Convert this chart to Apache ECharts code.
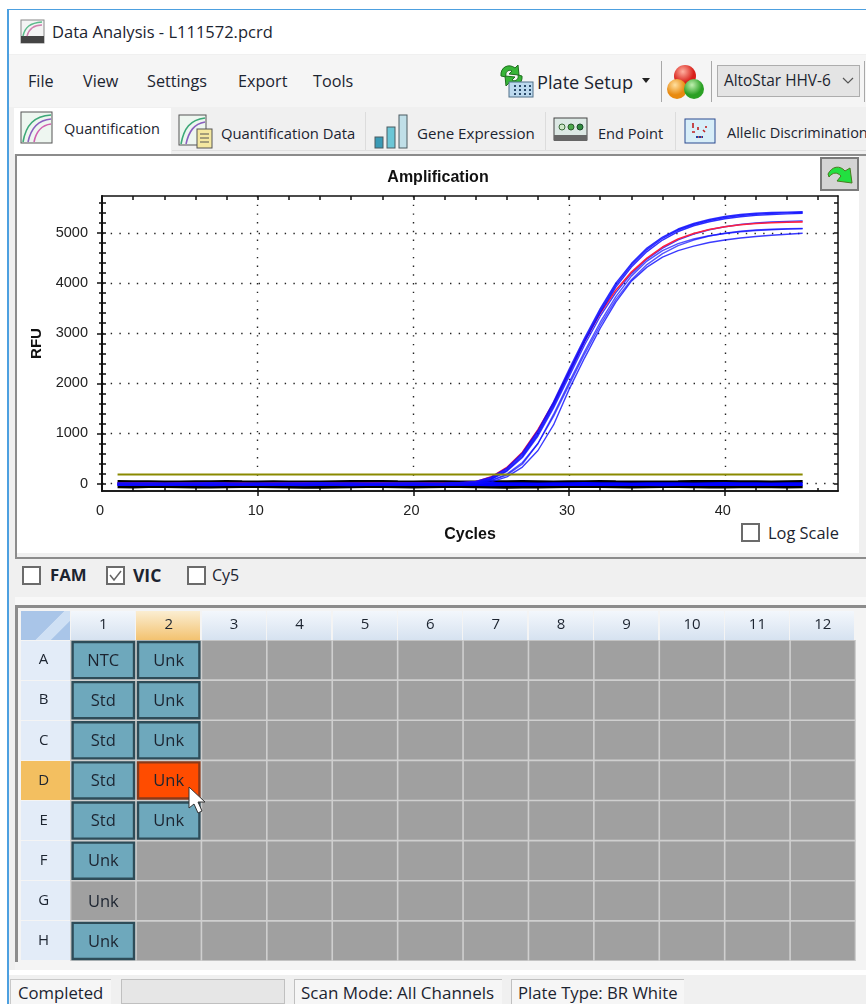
<!DOCTYPE html>
<html lang="en">
<head>
<meta charset="UTF-8">
<title>Data Analysis - L111572.pcrd</title>
<style>
    html, body { margin: 0; padding: 0; background: #fff; }
    #page { position: relative; width: 866px; height: 1004px; overflow: hidden; background: #fff; font-family: "Open Sans", "Noto Sans", sans-serif; color: #1c2430; }
    #page div, #page span, #page svg { position: absolute; }
    #main { left: 0; top: 0; width: 866px; height: 1004px; }
    .t { white-space: nowrap; line-height: 20px; font-size: 16.2px; }
    .box { background: #fff; border: 2px solid #6b6b6b; box-sizing: border-box; }
    .frame { background: #8c8c8c; }
</style>
</head>
<body>
<div id="page">
    <!-- window chrome -->
    <div style="left:7px;top:9px;right:0;bottom:0;background:#f0f0f0;border-left:2px solid #4da0e0;border-top:1px solid #4da0e0"></div>
    <div style="left:9px;top:10px;right:0;height:44px;background:#fff"></div>
    <svg style="left:20px;top:19px" width="25" height="25" viewBox="0 0 25 25">
        <rect x="1" y="1" width="23" height="23" fill="#f4f4f4" stroke="#888"/>
        <rect x="1" y="17" width="23" height="7" fill="#444"/>
        <path d="M3 17 C5 8 10 4 22 3" fill="none" stroke="#5bbb8b" stroke-width="1.5"/>
        <path d="M7 17 C9 10 14 6 22 6" fill="none" stroke="#d080b0" stroke-width="1.5"/>
    </svg>
    <span class="t" style="left:52px;top:22px;font-size:16.5px">Data Analysis - L111572.pcrd</span>

    <div style="left:9px;top:55px;right:0;height:52px;background:#f5f5f5"></div>
    <span class="t" style="left:28px;top:71px">File</span>
    <span class="t" style="left:83px;top:71px">View</span>
    <span class="t" style="left:147px;top:71px">Settings</span>
    <span class="t" style="left:238px;top:71px">Export</span>
    <span class="t" style="left:313px;top:71px">Tools</span>
    <svg style="left:497px;top:62px" width="38" height="36" viewBox="0 0 38 36">
        <path d="M4 14 C3 5 12 1 18 6 L21 3 L22 13 L12 12 L15 9 C11 7 8 10 9 15 Z" fill="#37b537" stroke="#1e6e1e"/>
        <path d="M25 14 C26 22 18 26 12 21 L9 24 L8 14 L18 15 L15 18 C19 20 22 17 21 13 Z" fill="#37b537" stroke="#1e6e1e"/>
        <rect x="12" y="20" width="24" height="15" fill="#bcd9ee" stroke="#51708a"/>
        <path d="M17 24h2M22 24h2M27 24h2M32 24h2M17 28h2M22 28h2M27 28h2M32 28h2M17 32h2M22 32h2M27 32h2M32 32h2" stroke="#2a4a6a" stroke-width="2"/>
    </svg>
    <span class="t" style="left:537px;top:72px;font-size:18.2px">Plate Setup</span>
    <svg style="left:642px;top:78px" width="8" height="6"><path d="M0 0h8l-4 5z" fill="#222"/></svg>
    <div style="left:661px;top:61px;width:1px;height:41px;background:#a8a8a8"></div>
    <div style="left:711px;top:61px;width:1px;height:41px;background:#a8a8a8"></div>
    <svg style="left:667px;top:63px" width="38" height="38" viewBox="0 0 38 38">
        <defs>
            <radialGradient id="r1" cx=".4" cy=".3"><stop offset="0" stop-color="#ffb0a0"/><stop offset="1" stop-color="#d8201a"/></radialGradient>
            <radialGradient id="r2" cx=".4" cy=".3"><stop offset="0" stop-color="#ffe0a0"/><stop offset="1" stop-color="#e88a10"/></radialGradient>
            <radialGradient id="r3" cx=".4" cy=".3"><stop offset="0" stop-color="#c0f0b0"/><stop offset="1" stop-color="#2aa024"/></radialGradient>
        </defs>
        <circle cx="18" cy="13" r="11" fill="url(#r1)"/>
        <circle cx="10" cy="26" r="10" fill="url(#r2)"/>
        <circle cx="27" cy="26" r="10" fill="url(#r3)"/>
    </svg>
    <div style="left:717px;top:65px;width:143px;height:32px;box-sizing:border-box;background:#e4e4e4;border:1px solid #adadad"></div>
    <span class="t" style="left:724px;top:71px;font-size:15.4px">AltoStar HHV-6</span>
    <svg style="left:842px;top:77px" width="12" height="8"><path d="M1 1l5 5 5-5" fill="none" stroke="#555" stroke-width="1.2"/></svg>
    <div style="left:864px;top:61px;width:1px;height:41px;background:#a8a8a8"></div>

    <!-- tabs -->
    <div style="left:172px;top:111px;right:0;height:39px;background:#f0f0f0;border-bottom:1px solid #e0e0e0"></div>
    <div style="left:14px;top:108px;width:157px;height:46px;background:#fff"></div>
    <div style="left:365px;top:112px;width:1px;height:38px;background:#dcdcdc"></div>
    <div style="left:545px;top:112px;width:1px;height:38px;background:#dcdcdc"></div>
    <div style="left:675px;top:112px;width:1px;height:38px;background:#dcdcdc"></div>
    <svg style="left:20px;top:111px" width="34" height="34" viewBox="0 0 34 34">
        <rect x="1" y="1" width="31" height="31" fill="#eef6f0" stroke="#555"/>
        <path d="M3 31 C6 14 14 5 31 4" fill="none" stroke="#3ca878" stroke-width="1.6"/>
        <path d="M8 31 C11 17 18 9 31 8" fill="none" stroke="#8a60c0" stroke-width="1.6"/>
        <path d="M14 31 C16 21 22 14 31 13" fill="none" stroke="#d060b0" stroke-width="1.6"/>
    </svg>
    <span class="t" style="left:64px;top:119px;font-size:14.5px">Quantification</span>
    <svg style="left:178px;top:114px" width="35" height="35" viewBox="0 0 35 35">
        <rect x="1" y="1" width="27" height="30" fill="#eef6f0" stroke="#555"/>
        <path d="M3 30 C6 14 12 6 27 4" fill="none" stroke="#3ca878" stroke-width="1.6"/>
        <path d="M8 30 C11 17 16 10 27 8" fill="none" stroke="#8a60c0" stroke-width="1.6"/>
        <rect x="19" y="15" width="15" height="19" fill="#f4e8a0" stroke="#555"/>
        <path d="M22 20h9M22 24h9M22 28h9" stroke="#555"/>
    </svg>
    <span class="t" style="left:221px;top:123px;font-size:14.8px">Quantification Data</span>
    <svg style="left:373px;top:113px" width="36" height="36" viewBox="0 0 36 36">
        <rect x="2" y="24" width="8" height="11" fill="#3a9ab5" stroke="#4a5a60"/>
        <rect x="14" y="14" width="8" height="21" fill="#6cc6d6" stroke="#4a5a60"/>
        <rect x="26" y="2" width="8" height="33" fill="#c0dfe8" stroke="#4a5a60"/>
    </svg>
    <span class="t" style="left:417px;top:123px;font-size:15.1px">Gene Expression</span>
    <svg style="left:553px;top:117px" width="35" height="26" viewBox="0 0 35 26">
        <rect x="1" y="1" width="33" height="22" fill="#dce8e4" stroke="#444"/>
        <rect x="1" y="18" width="33" height="6" fill="#666"/>
        <circle cx="9" cy="10" r="3" fill="#cfe8c8" stroke="#3a6a3a"/><circle cx="18" cy="10" r="3" fill="#4aa84a" stroke="#2a5a2a"/><circle cx="27" cy="10" r="3" fill="#2e8a3e" stroke="#1a4a2a"/>
    </svg>
    <span class="t" style="left:598px;top:123px;font-size:14.6px">End Point</span>
    <svg style="left:684px;top:118px" width="32" height="26" viewBox="0 0 32 26">
        <rect x="1" y="1" width="30" height="24" fill="#d8eef8" stroke="#2a4a90"/>
        <path d="M9 5v5M14 9v3M8 14h3M19 12l2 2M22 8v2M12 19h7" stroke="#c02020" stroke-width="1.6"/>
        <path d="M12 19h7" stroke="#2040a0" stroke-width="2" stroke-dasharray="2 1"/>
    </svg>
    <span class="t" style="left:727px;top:123px;font-size:14.5px">Allelic Discrimination</span>

    <!-- chart panel -->
    <div class="frame" style="left:15px;top:154px;width:851px;height:2px"></div>
    <div class="frame" style="left:15px;top:154px;width:2px;height:404px"></div>
    <div style="left:17px;top:156px;width:842px;height:397px;background:#fff"></div>
    <div class="frame" style="left:15px;top:557px;width:851px;height:2px"></div>
    <div style="left:820px;top:157px;width:39px;height:34px;box-sizing:border-box;background:#d4d4d4;border:2px solid #7a7a7a"></div>
    <svg style="left:826px;top:163px" width="30" height="24" viewBox="0 0 30 24">
        <path d="M2 11 C6 3 14 2 19 8 L24 5 L26 20 L11 18 L15 13 C11 9 7 9 3 14 Z" fill="#22e040" stroke="#4a7a20"/>
    </svg>
    <div class="box" style="left:741px;top:523px;width:19px;height:19px"></div>
    <span class="t" style="left:768px;top:523px;font-size:16.4px">Log Scale</span>

    <!-- channel checkboxes -->
    <div class="box" style="left:22px;top:566px;width:19px;height:19px"></div>
    <span class="t" style="left:50px;top:565px;font-weight:700;font-size:16.8px">FAM</span>
    <div class="box" style="left:106px;top:566px;width:19px;height:19px"></div>
    <svg style="left:108px;top:568px" width="15" height="15"><path d="M2 7l4 5 7-9" fill="none" stroke="#666" stroke-width="1.5"/></svg>
    <span class="t" style="left:133px;top:565px;font-weight:700;font-size:17.5px">VIC</span>
    <div class="box" style="left:187px;top:566px;width:19px;height:19px"></div>
    <span class="t" style="left:212px;top:565px;font-size:16px">Cy5</span>

    <!-- plate frame -->
    <div style="left:15px;top:597px;right:0;height:8px;background:#f8f8f8"></div>
    <div class="frame" style="left:15px;top:605px;width:851px;height:3px"></div>
    <div class="frame" style="left:15px;top:605px;width:3px;height:357px"></div>
    <div style="left:18px;top:608px;width:848px;height:354px;background:#f4f4f4"></div>
    <div id="plateHeads"></div>
    <div style="left:70px;top:640px;width:786px;height:321px;background:#cfcfcf"></div>
    <div style="left:15px;top:962px;right:0;height:8px;background:#f4f4f4"></div>
    <div style="left:9px;top:970px;right:0;height:5px;background:#fff"></div>

    <!-- status bar -->
    <div style="left:10px;top:979px;width:100px;height:25px;background:#f6f6f6;border-top:1px solid #c8c8c8;border-left:1px solid #c8c8c8"></div>
    <span class="t" style="left:18px;top:983px;font-size:16.7px">Completed</span>
    <div style="left:121px;top:979px;width:164px;height:25px;box-sizing:border-box;background:#e6e6e6;border:1px solid #c0c0c0"></div>
    <div style="left:294px;top:979px;width:207px;height:25px;background:#f6f6f6;border-top:1px solid #c0c0c0;border-left:1px solid #c0c0c0"></div>
    <span class="t" style="left:301px;top:983px;font-size:17px">Scan Mode: All Channels</span>
    <div style="left:511px;top:979px;width:172px;height:25px;background:#f6f6f6;border-top:1px solid #c0c0c0;border-left:1px solid #c0c0c0"></div>
    <span class="t" style="left:518px;top:983px;font-size:16.7px">Plate Type: BR White</span>

    <div id="main"></div>

    <!-- mouse pointer -->
    <svg style="left:187px;top:786px" width="20" height="30" viewBox="0 0 20 30">
        <path d="M2 1 L2 22 L7 18 L11 27 L15 25 L11 16 L18 16 Z" fill="#fff" stroke="#333" stroke-width="1"/>
    </svg>
</div>

<script src="https://cdn.jsdelivr.net/npm/echarts@6/dist/echarts.min.js"></script>
<script>
    // cycle numbers 1..45
    const cycles = [1,2,3,4,5,6,7,8,9,10,11,12,13,14,15,16,17,18,19,20,21,22,23,24,25,26,27,28,29,30,31,32,33,34,35,36,37,38,39,40,41,42,43,44,45];

    const xMajorTicks = [10, 20, 30, 40];
    const xAllTicks = [2,4,6,8,10,12,14,16,18,20,22,24,26,28,30,32,34,36,38,40,42,44,46];
    const xLabels = [0, 10, 20, 30, 40];
    const yMajorTicks = [0, 1000, 2000, 3000, 4000, 5000];
    const yAllTicks = [0,200,400,600,800,1000,1200,1400,1600,1800,2000,2200,2400,2600,2800,3000,3200,3400,3600,3800,4000,4200,4400,4600,4800,5000,5200,5400,5600];

    // threshold and the flat (negative) wells
    const threshold = [180,180,180,180,180,180,180,180,180,180,180,180,180,180,180,180,180,180,180,180,180,180,180,180,180,180,180,180,180,180,180,180,180,180,180,180,180,180,180,180,180,180,180,180,180];
    const flatHigh = [40,36,38,34,32,36,38,40,36,34,36,32,30,34,38,42,44,40,36,34,36,38,34,32,36,38,40,38,34,36,38,40,36,34,32,34,36,40,44,42,38,36,34,38,40];
    const flatLow = [-62,-66,-60,-58,-62,-66,-68,-64,-60,-58,-62,-70,-74,-72,-68,-62,-60,-58,-62,-66,-64,-60,-58,-62,-68,-72,-70,-66,-62,-60,-58,-60,-64,-66,-62,-60,-58,-62,-66,-68,-64,-60,-62,-66,-64];
    const flatBlueA = [4,2,6,0,2,4,6,2,0,-2,2,4,6,4,2,0,4,6,2,4,2,0,2,4,6,4,2,0,2,4,6,4,2,0,2,4,2,0,4,6,4,2,0,2,4];
    const flatBlueB = [-24,-26,-22,-20,-24,-26,-28,-24,-22,-20,-24,-26,-22,-24,-26,-28,-24,-22,-20,-24,-26,-22,-24,-26,-28,-24,-22,-20,-22,-24,-26,-24,-22,-24,-26,-28,-24,-22,-20,-24,-26,-24,-22,-24,-26];

    // rising wells, RFU per cycle
    const wellA = [12,14,10,8,12,14,16,12,10,8,10,12,14,16,14,12,10,12,14,12,10,12,22,44,130,310,610,1060,1630,2280,2910,3490,4000,4390,4700,4920,5080,5190,5270,5330,5370,5395,5410,5418,5425];
    const wellB = [-2,0,2,-4,-2,0,4,2,-2,-4,-2,0,2,4,0,-2,-4,-2,0,2,0,-2,6,26,110,285,580,1020,1590,2230,2870,3450,3960,4360,4670,4895,5060,5170,5250,5310,5350,5375,5392,5402,5410];
    const wellC = [-14,-12,-16,-18,-14,-12,-10,-14,-16,-18,-14,-12,-10,-12,-16,-14,-12,-16,-18,-14,-12,-14,-8,18,92,260,545,985,1550,2190,2830,3410,3920,4320,4630,4860,5030,5145,5225,5285,5325,5352,5370,5382,5392];
    const wellD = [-24,-22,-26,-20,-24,-28,-26,-22,-20,-24,-26,-28,-24,-22,-20,-24,-28,-26,-22,-24,-26,-22,-14,12,85,245,520,950,1510,2140,2770,3340,3810,4190,4480,4700,4865,4980,5065,5125,5170,5200,5220,5232,5242];
    const wellE = [-6,-8,-4,-10,-6,-8,-10,-6,-4,-8,-10,-6,-4,-8,-6,-10,-8,-4,-6,-8,-10,-6,-2,12,60,170,390,800,1380,2020,2640,3220,3730,4140,4440,4650,4790,4880,4945,4990,5025,5050,5065,5078,5085];
    const wellF = [-32,-30,-34,-36,-30,-32,-34,-36,-32,-30,-34,-36,-38,-34,-30,-32,-36,-34,-30,-32,-34,-32,-26,-8,35,135,330,660,1170,1880,2510,3100,3620,4040,4320,4520,4650,4740,4810,4860,4900,4930,4955,4975,4995];
    const wellG = [-18,-16,-20,-22,-18,-16,-14,-18,-20,-22,-18,-14,-16,-20,-18,-16,-14,-20,-22,-18,-16,-18,-10,8,62,190,420,800,1340,1970,2590,3160,3670,4070,4370,4590,4750,4860,4940,4995,5035,5060,5075,5085,5092];
    const selectedWell = [6,4,8,2,6,8,10,6,4,2,6,8,10,8,6,4,8,10,6,8,6,4,12,38,135,320,625,1075,1610,2230,2850,3400,3860,4220,4500,4720,4880,4990,5070,5125,5165,5190,5205,5215,5222];

    // plate layout
    const plateCols = ['1','2','3','4','5','6','7','8','9','10','11','12'];
    const plateRows = ['A','B','C','D','E','F','G','H'];
    const col1Wells = ['NTC','Std','Std','Std','Std','Unk','Unk','Unk'];
    const col2Wells = ['Unk','Unk','Unk','Unk','Unk','','',''];

    const cellKinds = { empty: 0, filled: 1, idle: 2, selected: 3 };
    const plateCells = [];
    plateRows.forEach((rowName, r) => {
        plateCols.forEach((colName, c) => {
            let text = c === 0 ? col1Wells[r] : c === 1 ? col2Wells[r] : '';
            let kind = text ? cellKinds.filled : cellKinds.empty;
            if (rowName === 'G' && c === 0) kind = cellKinds.idle;
            if (rowName === 'D' && c === 1) kind = cellKinds.selected;
            plateCells.push({ value: [c, r, kind], text: text });
        });
    });

    // header backgrounds sit under the canvas
    const heads = document.getElementById('plateHeads');
    const addHead = (l, t, w, h, bg) => {
        const d = document.createElement('div');
        d.style.cssText = 'left:' + l + 'px;top:' + t + 'px;width:' + w + 'px;height:' + h + 'px;background:' + bg;
        heads.appendChild(d);
    };
    addHead(21, 611, 49, 29, 'linear-gradient(135deg,#a9c5e8 55%,#cfe0f4 56%,#cfe0f4 75%,#a9c5e8 76%)');
    plateCols.forEach((name, c) => {
        const bg = name === '2' ? 'linear-gradient(#fbeed2,#f3c270)' : 'linear-gradient(#f3f7fc,#d6e2f0)';
        addHead(71 + c * 65.4, 611, 64, 29, bg);
    });
    plateRows.forEach((name, r) => {
        addHead(21, 640.5 + r * 40.1, 49, 39, name === 'D' ? '#f3bf60' : '#e3ecf8');
    });

    const uiFont = '"Liberation Sans", Arial, sans-serif';
    const chartGrid = { left: 102, right: 28, top: 196, bottom: 513 };
    const xMin = 0, xMax = 47.27, yMin = -148, yMax = 5739;

    function tickX(position, values, len, inside, extra) {
        return Object.assign({
            type: 'value', gridIndex: 0, position: position, min: xMin, max: xMax,
            axisLine: { show: true, onZero: false, lineStyle: { color: '#111', width: 1.5 } },
            axisTick: { show: true, inside: inside, length: len, customValues: values, lineStyle: { color: '#111', width: 1.5 } },
            axisLabel: { show: false }, splitLine: { show: false }
        }, extra);
    }
    function tickY(position, values, len, inside, extra) {
        return Object.assign({
            type: 'value', gridIndex: 0, position: position, min: yMin, max: yMax,
            axisLine: { show: true, onZero: false, lineStyle: { color: '#111', width: 1.5 } },
            axisTick: { show: true, inside: inside, length: len, customValues: values, lineStyle: { color: '#111', width: 1.5 } },
            axisLabel: { show: false }, splitLine: { show: false }
        }, extra);
    }
    const dotted = { show: true, lineStyle: { color: '#222', width: 1.4, type: [1.4, 7.3] } };

    const lineSeries = (name, values, color, width, opacity) => ({
        name: name, type: 'line', xAxisIndex: 0, yAxisIndex: 0,
        data: values.map((v, i) => [cycles[i], v]),
        showSymbol: false, silent: true, animation: false,
        lineStyle: { color: color, width: width, opacity: opacity === undefined ? 1 : opacity }
    });

    const option = {
        animation: false,
        title: {
            text: 'Amplification', left: 433, top: 165, textAlign: 'center',
            textStyle: { fontFamily: uiFont, fontSize: 16, fontWeight: 'bold', color: '#111' }
        },
        grid: [
            chartGrid,
            { left: 70.6, right: 10.5, top: 640, bottom: 43 }
        ],
        xAxis: [
            tickX('bottom', xMajorTicks, 5, false, {
                name: 'Cycles', nameLocation: 'middle', nameGap: 36,
                nameTextStyle: { fontFamily: uiFont, fontSize: 16, fontWeight: 'bold', color: '#111' },
                axisLabel: { show: true, customValues: xLabels, margin: 12, padding: [0, 4, 0, 0], fontFamily: uiFont, fontSize: 14.5, color: '#222', formatter: '{value}' },
                splitLine: Object.assign({}, dotted)
            }),
            tickX('bottom', xAllTicks, 3, true),
            tickX('top', xAllTicks, 4, true),
            {
                type: 'category', gridIndex: 1, position: 'top', data: plateCols,
                axisLine: { show: false }, axisTick: { show: false }, splitLine: { show: false },
                axisLabel: { margin: 8, interval: 0, fontFamily: '"Open Sans", sans-serif', fontSize: 15, color: '#1c2430' }
            }
        ],
        yAxis: [
            tickY('left', yMajorTicks, 5, false, {
                name: 'RFU', nameLocation: 'middle', nameGap: 58, nameRotate: 90,
                nameTextStyle: { fontFamily: uiFont, fontSize: 15, fontWeight: 'bold', color: '#111' },
                axisLabel: { show: true, customValues: yMajorTicks, margin: 14, fontFamily: uiFont, fontSize: 14.5, color: '#222', formatter: v => String(v) },
                splitLine: Object.assign({}, dotted)
            }),
            tickY('left', yAllTicks, 3, false),
            tickY('left', yAllTicks, 4, true),
            tickY('right', yAllTicks, 4, true),
            {
                type: 'category', gridIndex: 1, position: 'left', inverse: true, data: plateRows,
                axisLine: { show: false }, axisTick: { show: false }, splitLine: { show: false },
                axisLabel: { margin: 27, interval: 0, align: 'center', fontFamily: '"Open Sans", sans-serif', fontSize: 15, color: '#1c2430' }
            }
        ],
        series: [
            lineSeries('flatHigh', flatHigh, '#000', 3),
            lineSeries('flatLow', flatLow, '#000', 3),
            lineSeries('flatBlueA', flatBlueA, '#0000ff', 2.4),
            lineSeries('flatBlueB', flatBlueB, '#0000ff', 2.4),
            lineSeries('wellF', wellF, '#0a0aff', 1.4, 0.8),
            lineSeries('wellE', wellE, '#0a0aff', 1.4, 0.7),
            lineSeries('wellG', wellG, '#0a0aff', 1.4, 0.7),
            lineSeries('wellD', wellD, '#0a0aff', 1.4, 0.8),
            lineSeries('selected', selectedWell, '#ff2040', 1.6),
            lineSeries('wellC', wellC, '#0a0aff', 1.4, 0.85),
            lineSeries('wellB', wellB, '#0a0aff', 1.4, 0.85),
            lineSeries('wellA', wellA, '#0a0aff', 1.4, 0.85),
            lineSeries('threshold', threshold, '#8a8a00', 2),
            {
                type: 'custom', xAxisIndex: 3, yAxisIndex: 4, silent: true, animation: false,
                encode: { x: 0, y: 1 },
                data: plateCells,
                renderItem: function (params, api) {
                    const cell = plateCells[params.dataIndex];
                    const kind = cell.value[2];
                    const center = api.coord([api.value(0), api.value(1)]);
                    const size = api.size([1, 1]);
                    const filled = kind === cellKinds.filled || kind === cellKinds.selected;
                    const inset = filled ? 2 : 0.8;
                    const fill = kind === cellKinds.selected ? '#ff4c00' : kind === cellKinds.filled ? '#6ea8bc' : '#a0a0a0';
                    const stroke = kind === cellKinds.selected ? '#8a3a1a' : kind === cellKinds.filled ? '#2e4c58' : null;
                    return {
                        type: 'group',
                        children: [
                            {
                                type: 'rect',
                                shape: { x: center[0] - size[0] / 2 + inset, y: center[1] - size[1] / 2 + inset, width: size[0] - inset * 2, height: size[1] - inset * 2 },
                                style: { fill: fill, stroke: stroke, lineWidth: filled ? 2.4 : 0 }
                            },
                            {
                                type: 'text',
                                style: { x: center[0], y: center[1] + 1, text: cell.text, textAlign: 'center', textVerticalAlign: 'middle', font: '16.5px "Open Sans", sans-serif', fill: '#1c2430' }
                            }
                        ]
                    };
                }
            }
        ]
    };

    const myChart = echarts.init(document.getElementById('main'), null, { width: 866, height: 1004 });
    myChart.setOption(option);
</script>
</body>
</html>
